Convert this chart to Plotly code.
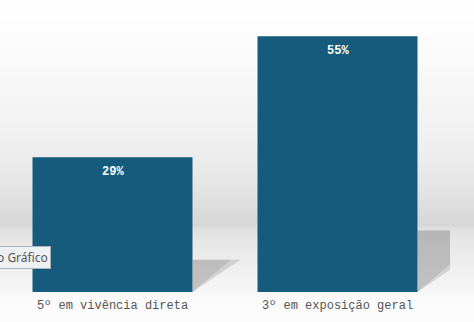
import plotly.graph_objects as go

categories = ["5º em vivência direta", "3º em exposição geral"]
values = [29, 55]

W, H = 474, 322
ML, MR, MT, MB = 0, 24, 0, 30
plot_h = H - MT - MB
y_top = 62.8
bar_width = 0.711
shadow_h = 0.24
shadow_k = 0.00736

xs = list(range(len(categories)))

fig = go.Figure()

# background gradient (decorative bands)
stops = [(0, 255), (40, 252), (100, 245), (150, 238), (185, 229), (210, 220),
         (225, 214), (228, 222), (240, 230), (265, 238), (292, 246), (300, 251), (322, 252)]
shapes = []
def gray_at(p):
    for (p0, g0), (p1, g1) in zip(stops[:-1], stops[1:]):
        if p0 <= p <= p1:
            t = (p - p0) / (p1 - p0) if p1 > p0 else 0
            return g0 + (g1 - g0) * t
    return stops[-1][1]
for p in range(0, H, 2):
    g = int(round(gray_at(p + 1)))
    shapes.append(dict(type="rect", xref="paper", yref="paper",
                       x0=-0.01, x1=W / (W - ML - MR) + 0.01,
                       y0=(plot_h - (p + 2)) / plot_h, y1=(plot_h - p) / plot_h,
                       fillcolor=f"rgb({g},{g},{g})", line=dict(width=0), layer="below"))

# shadows derived from bar values (two layers for a soft look)
for x, v in zip(xs, values):
    xr = x + bar_width / 2
    for scale, alpha in [(1.0, 0.22), (0.8, 0.2)]:
        sx = [xr, xr, xr + shadow_k * v * scale, xr]
        sy = [0, shadow_h * v, shadow_h * v, 0]
        fig.add_trace(go.Scatter(x=sx, y=sy, fill="toself", mode="lines",
                                 line=dict(width=0), fillcolor=f"rgba(110,110,110,{alpha})",
                                 hoverinfo="skip", showlegend=False))

fig.add_trace(go.Bar(x=xs, y=values, width=bar_width,
                     marker=dict(color="#165b7b", line=dict(width=0)),
                     hoverinfo="skip", showlegend=False))

annotations = []
for x, v in zip(xs, values):
    annotations.append(dict(x=x, y=v, xref="x", yref="y", text=f"{v}%",
                            showarrow=False, yanchor="top", yshift=-6,
                            font=dict(family="Liberation Mono", size=12, color="white",
                                      weight="bold")))

annotations.append(dict(x=51 / (W - ML - MR), y=(plot_h - 257) / plot_h, xref="paper", yref="paper",
                        xanchor="right", yanchor="middle", text="o Gráfico", showarrow=False,
                        bgcolor="#eef1f3", bordercolor="#a9b3bb", borderwidth=1, borderpad=2,
                        font=dict(family="Noto Sans", size=12, color="#555555")))

fig.update_layout(
    width=W, height=H,
    margin=dict(l=ML, r=MR, t=MT, b=MB),
    paper_bgcolor="white", plot_bgcolor="rgba(0,0,0,0)",
    shapes=shapes, annotations=annotations,
    bargap=1 - bar_width,
    xaxis=dict(range=[-0.5, 1.5], tickvals=xs, ticktext=categories,
               showgrid=False, zeroline=False, showline=False, ticks="",
               ticklabelstandoff=4,
               tickfont=dict(family="Liberation Mono", size=12, color="#555555")),
    yaxis=dict(range=[0, y_top], visible=False, showgrid=False, zeroline=False),
)

fig.write_html("out.html", config={"displayModeBar": False})
